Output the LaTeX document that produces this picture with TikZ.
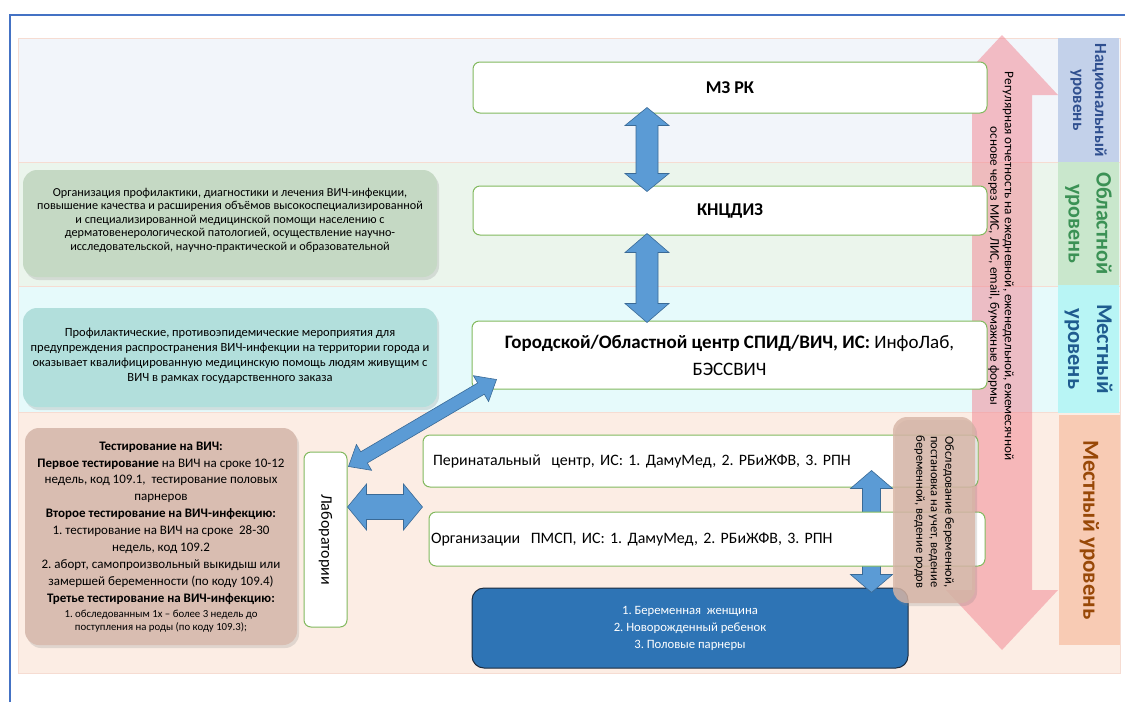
\documentclass[tikz,border=0pt]{standalone}
\usepackage{fontspec}
\setmainfont{Carlito}
\usetikzlibrary{calc,shadows}
\frenchspacing
\definecolor{bandnat}{HTML}{F2F5FA}
\definecolor{bandobl}{HTML}{EBF5EC}
\definecolor{bandmest}{HTML}{E6FAFB}
\definecolor{bandloc}{HTML}{FCEDE4}
\definecolor{bandline}{HTML}{F6DCD2}
\definecolor{labnat}{HTML}{C3D1EA}
\definecolor{labobl}{HTML}{C9E7CC}
\definecolor{labmest}{HTML}{B8F5F5}
\definecolor{labloc}{HTML}{F8CBB4}
\definecolor{txtnat}{HTML}{2F4F8F}
\definecolor{txtobl}{HTML}{3B9155}
\definecolor{txtmest}{HTML}{1F5C8F}
\definecolor{txtloc}{HTML}{984807}
\definecolor{boxgreen}{HTML}{82B95E}
\definecolor{arrblue}{HTML}{5B9BD5}
\definecolor{arrline}{HTML}{3A6A96}
\definecolor{bluebox}{HTML}{2E74B5}
\definecolor{blueedge}{HTML}{1C2B3E}
\definecolor{pinkarr}{HTML}{F28290}
\definecolor{notegreen}{HTML}{C5D9C4}
\definecolor{notecyan}{HTML}{B2DFDC}
\definecolor{notebrown}{HTML}{D9BDB1}
\definecolor{noteright}{HTML}{D7B5A6}
\definecolor{frameblue}{HTML}{4472C4}
\newcommand\myblockarrow[6][]{%
  \path[#1] (#2) -- ($(#2)!#6!(#3)!#5!90:(#3)$) -- ($(#2)!#6!(#3)!#4!90:(#3)$)
   -- ($(#3)!#6!(#2)!#4!-90:(#2)$) -- ($(#3)!#6!(#2)!#5!-90:(#2)$) -- (#3)
   -- ($(#3)!#6!(#2)!#5!90:(#2)$) -- ($(#3)!#6!(#2)!#4!90:(#2)$)
   -- ($(#2)!#6!(#3)!#4!-90:(#3)$) -- ($(#2)!#6!(#3)!#5!-90:(#3)$) -- cycle;}
\begin{document}
\begin{tikzpicture}[x=1pt,y=-1pt,
  band/.style={fill=#1, draw=bandline, line width=0.6pt},
  lvl/.style={fill=#1, inner sep=0pt, rotate=-90, align=center},
  box/.style={draw=boxgreen, line width=1pt, fill=white, rounded corners=7pt, inner sep=0pt},
  note/.style={rounded corners=14pt, inner sep=0pt, drop shadow={shadow xshift=2pt, shadow yshift=-3pt, opacity=0.22}},
  bluearrow/.style={fill=arrblue, draw=arrline, line width=0.6pt, line join=miter},
  pinkarrow/.style={fill=pinkarr, fill opacity=0.5},
]
\useasboundingbox (0,0) rectangle (1125,702);
\fill[white] (0,0) rectangle (1125,702);
% frame
\draw[frameblue, line width=1.6pt] (10,702) -- (10,15) -- (1125,15);
% bands
\path[band=bandnat] (18,38) rectangle (1120,162);
\path[band=bandobl] (18,162) rectangle (1120,286);
\path[band=bandmest] (18,286) rectangle (1120,412);
\path[band=bandloc] (18,412) rectangle (1120,673);
% level labels
\node[lvl=labnat, minimum width=124pt, minimum height=61pt, text=txtnat, font=\bfseries\fontsize{17}{22}\selectfont] (lnat) at (1088.5,100) {Национальный\\уровень};
\node[lvl=labobl, minimum width=123pt, minimum height=61pt, text=txtobl, font=\bfseries\fontsize{22}{28}\selectfont] (lobl) at (1088.5,223.5) {Областной\\уровень};
\node[lvl=labmest, minimum width=128pt, minimum height=61pt, text=txtmest, font=\bfseries\fontsize{22.5}{29}\selectfont] (lmest) at (1088.5,349) {Местный\\уровень};
\node[lvl=labloc, minimum width=230pt, minimum height=61pt, text=txtloc, font=\bfseries\fontsize{23}{25}\selectfont] (lloc) at (1089.5,530) {Местный уровень};
% big pink arrow
\coordinate (pa) at (1002,35);
\coordinate (pb) at (1002,650);
\myblockarrow[pinkarrow]{pa}{pb}{30pt}{56pt}{60pt}
\node[rotate=-90, align=center, font=\fontsize{13.2}{14.5}\selectfont] (ptxt) at (1001,266) {Регулярная отчетность на ежедневной, еженедельной, ежемесячной\\основе через МИС, ЛИС, email, бумажные формы};
% left notes
\node[note, fill=notegreen, minimum width=414pt, minimum height=107pt] (ng) at (230,223.5) {};
\node[align=center, font=\fontsize{12.2}{13.5}\selectfont] (ngt) at (230,220) {Организация профилактики, диагностики и лечения ВИЧ-инфекции,\\повышение качества и расширения объёмов высокоспециализированной\\и специализированной медицинской помощи населению с\\дерматовенерологической патологией, осуществление научно-\\исследовательской, научно-практической и образовательной};
\node[note, fill=notecyan, minimum width=414pt, minimum height=99pt] (nc) at (230,357.5) {};
\node[align=center, font=\fontsize{12.5}{15}\selectfont] (nct) at (230,356) {Профилактические, противоэпидемические мероприятия для\\предупреждения распространения ВИЧ-инфекции на территории города и\\оказывает квалифицированную медицинскую помощь людям живущим с\\ВИЧ в рамках государственного заказа};
\node[note, fill=notebrown, minimum width=272pt, minimum height=217pt] (nb) at (161,536.5) {};
\node[align=center, font=\fontsize{13}{16.9}\selectfont] (nbt) at (161,523) {\textbf{Тестирование на ВИЧ:}\\\textbf{Первое тестирование} на ВИЧ на сроке 10-12\\недель, код 109.1,\ \ тестирование половых\\парнеров\\\textbf{Второе тестирование на ВИЧ-инфекцию:}\\1. тестирование на ВИЧ на сроке\ \ 28-30\\недель, код 109.2\\2. аборт, самопроизвольный выкидыш или\\замершей беременности (по коду 109.4)\\\textbf{Третье тестирование на ВИЧ-инфекцию:}};
\node[align=center, font=\fontsize{10.8}{13}\selectfont, anchor=north] (nbs) at ([yshift=1pt]nbt.south) {1. обследованным 1х – более 3 недель до\\поступления на роды (по коду 109.3);};
% main boxes
\node[box, minimum width=514pt, minimum height=51pt, font=\bfseries\fontsize{18}{20}\selectfont] (mz) at (730,87.5) {МЗ РК};
\node[box, minimum width=514pt, minimum height=49pt, font=\bfseries\fontsize{18}{20}\selectfont] (kn) at (730,210.5) {КНЦДИЗ};
\node[box, minimum width=515pt, minimum height=68pt, align=center, font=\fontsize{19}{27}\selectfont] (gor) at (729.5,355) {\textbf{Городской/Областной центр СПИД/ВИЧ, ИС:} ИнфоЛаб,\\БЭССВИЧ};
\node[box, minimum width=43pt, minimum height=175pt] (lab) at (325.5,539.5) {};
\node[rotate=-90, font=\fontsize{16}{18}\selectfont] (labt) at (lab) {Лаборатории};
\node[box, minimum width=555pt, minimum height=52pt, text width=535pt, inner xsep=10pt, align=left, font=\fontsize{15.9}{18}\selectfont] (peri) at (700.5,461) {Перинатальный\ \ центр, ИС: 1. ДамуМед, 2. РБиЖФВ, 3. РПН};
\node[box, draw=blueedge, fill=bluebox, minimum width=436pt, minimum height=80pt, rounded corners=12pt, align=center, text=white, font=\fontsize{12.7}{17}\selectfont] (blue) at (690,628) {1. Беременная\ \ женщина\\2. Новорожденный ребенок\\3. Половые парнеры};
\coordinate (v1) at ($(peri.south east)+(-107,-17)$);
\coordinate (v2) at ($(blue.north east)+(-37,5)$);
\myblockarrow[bluearrow]{v1}{v2}{9pt}{21pt}{18pt}
\node[box, minimum width=556pt, minimum height=54pt, text width=552pt, inner xsep=2pt, align=left, font=\fontsize{15.9}{18}\selectfont] (pmsp) at (707,539) {Организации\ \ ПМСП, ИС: 1. ДамуМед, 2. РБиЖФВ, 3. РПН};
% blue arrows
\coordinate (a1) at ($(mz.south)+(-83,-6)$);
\coordinate (a2) at ($(kn.north)+(-83,6)$);
\myblockarrow[bluearrow]{a1}{a2}{11pt}{22pt}{18pt}
\coordinate (b1) at ($(kn.south)+(-83,-2)$);
\coordinate (b2) at ($(gor.north)+(-82.5,2)$);
\myblockarrow[bluearrow]{b1}{b2}{11pt}{22pt}{19pt}
\coordinate (d1) at ([xshift=1pt,yshift=-15pt]lab.north east);
\coordinate (d2) at ([xshift=25pt,yshift=10pt]gor.south west);
\myblockarrow[bluearrow]{d1}{d2}{6.5pt}{15pt}{18pt}
\coordinate (h1) at ([yshift=32.5pt]lab.east);
\coordinate (h2) at (h1 -| peri.west);
\myblockarrow[bluearrow]{h1}{h2}{12.5pt}{23pt}{19pt}
% right note
\node[note, fill=noteright, fill opacity=0.82, minimum width=82pt, minimum height=186pt] (nr) at (934,510) {};
\node[rotate=-90, align=center, font=\fontsize{12.5}{14.5}\selectfont] (nrt) at (934,512) {Обследование беременной,\\постановка на учет, ведение\\беременной, ведение родов};
\end{tikzpicture}
\end{document}
